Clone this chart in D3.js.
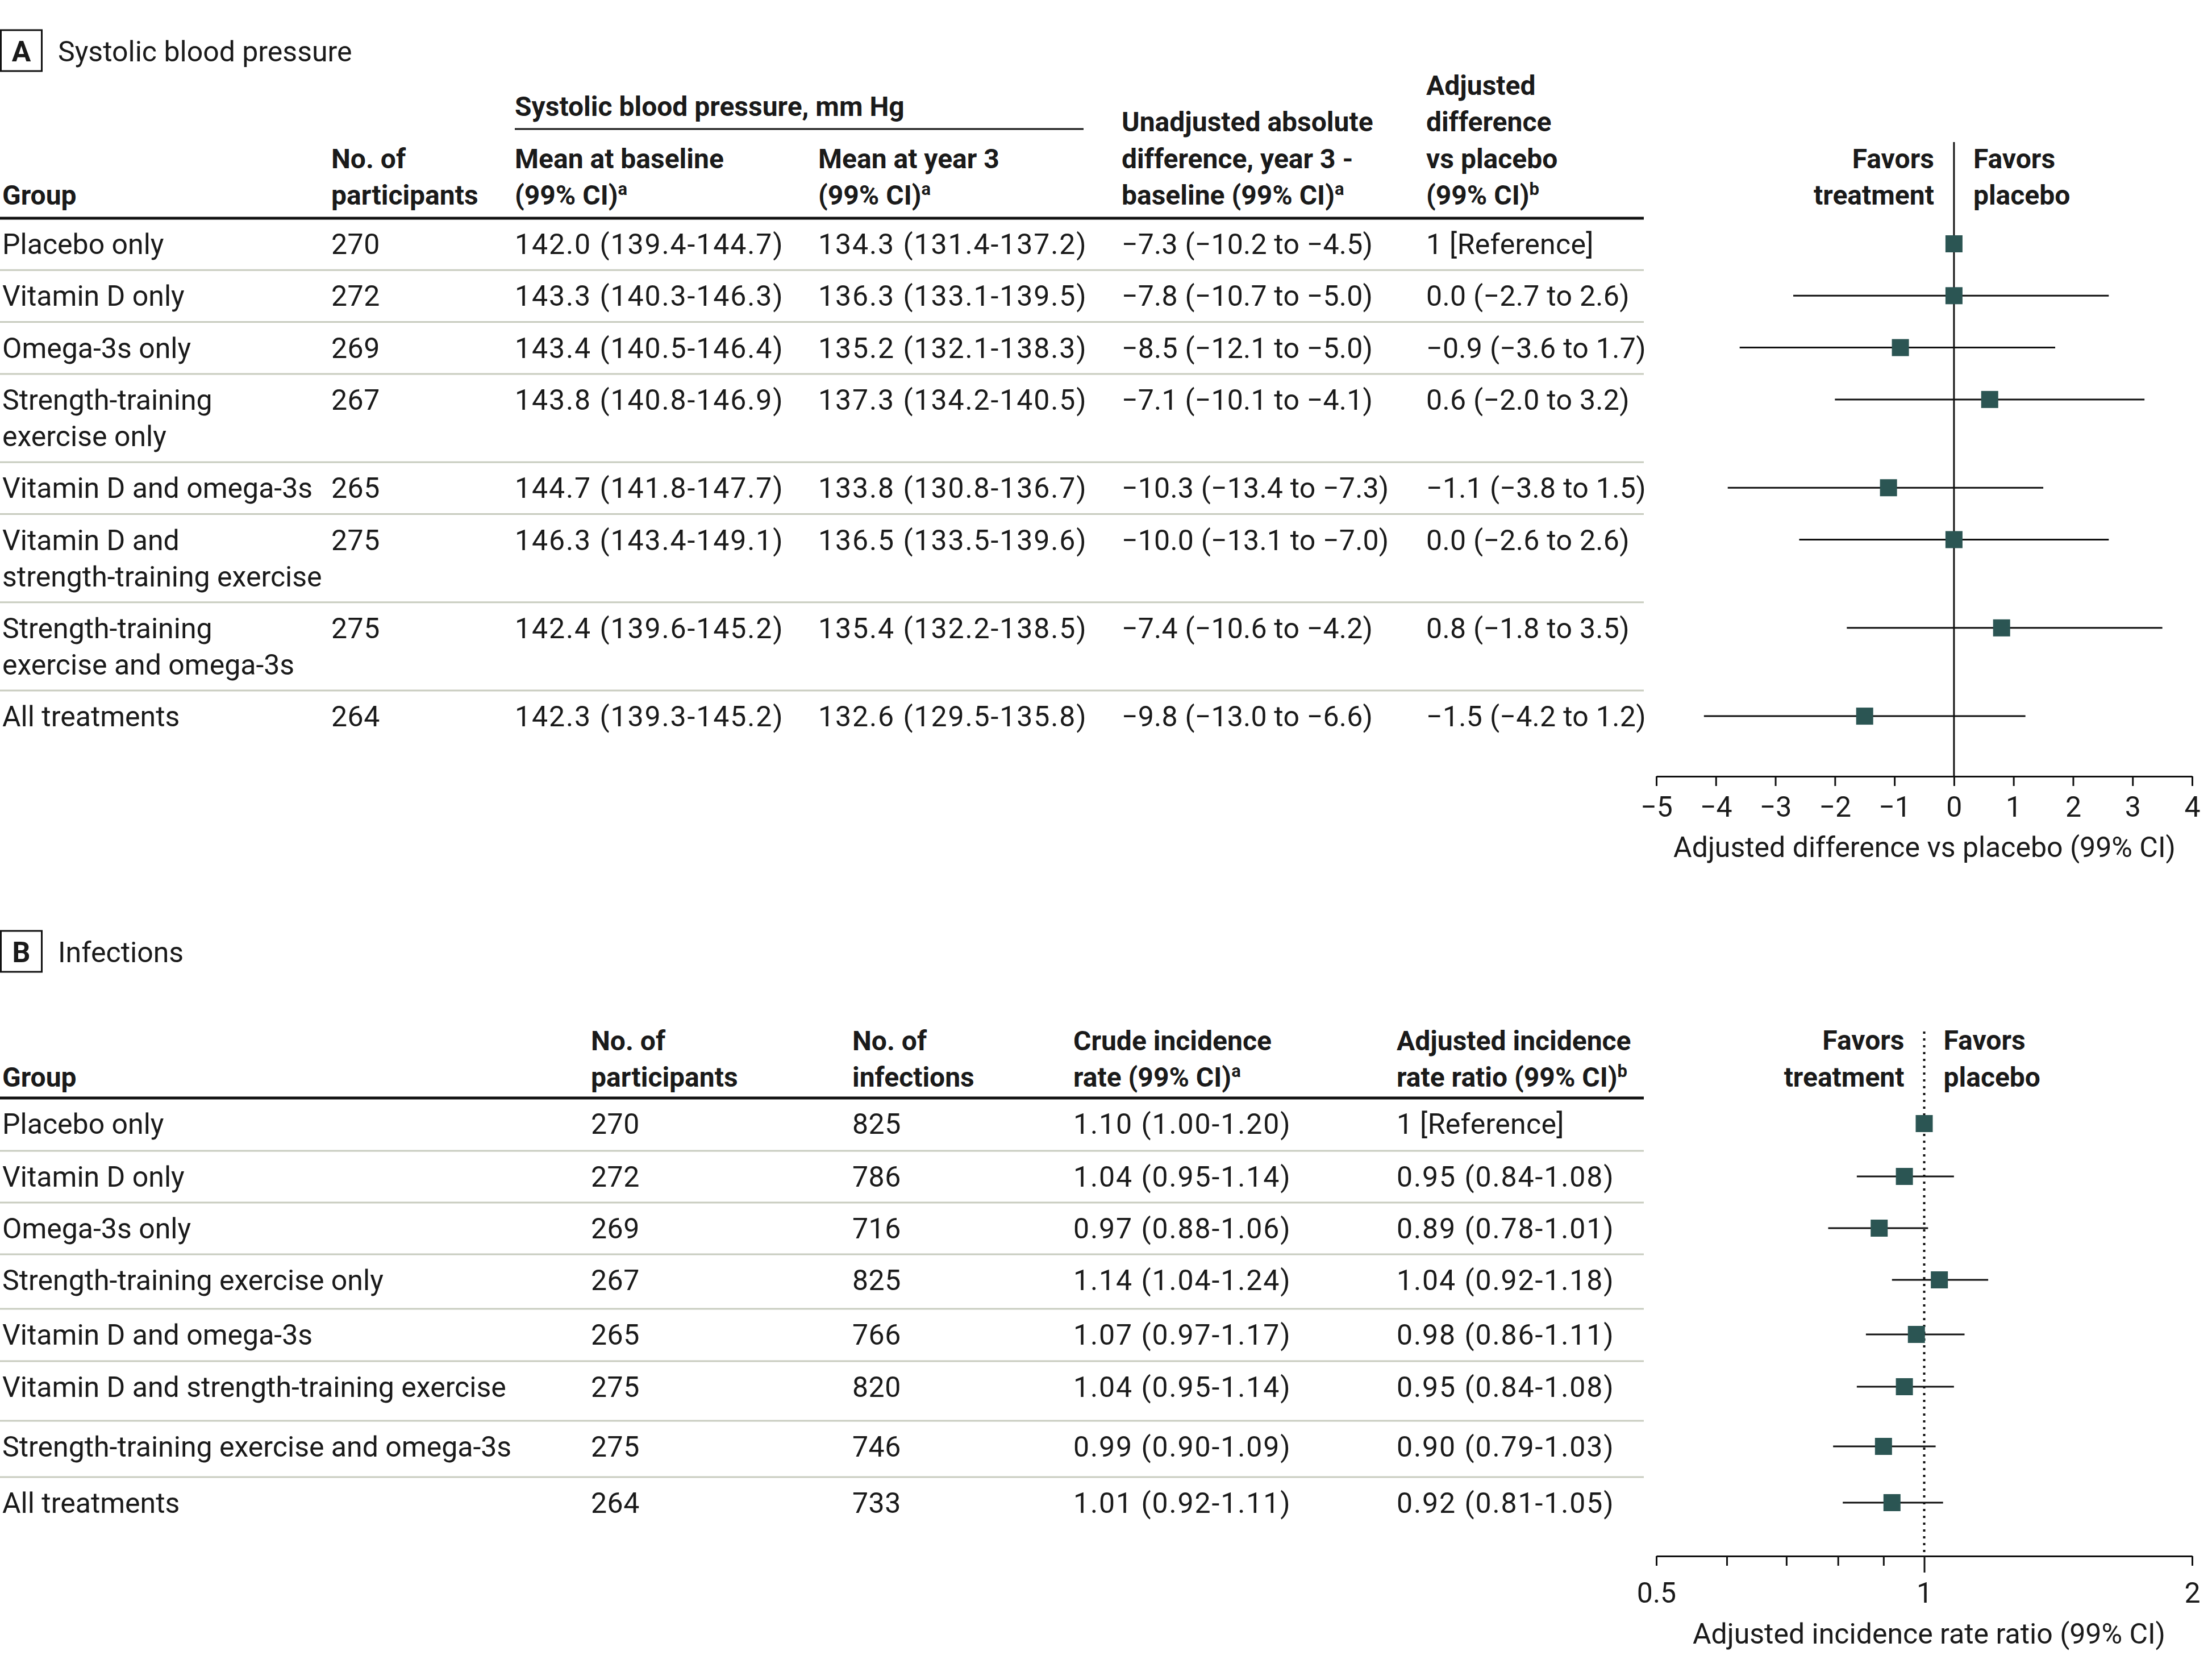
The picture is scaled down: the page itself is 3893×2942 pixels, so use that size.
<!DOCTYPE html>
<html><head><meta charset="utf-8">
<script src="https://cdn.jsdelivr.net/npm/d3@7"></script>
<style>
html,body{margin:0;padding:0;background:#fff;}
svg text{font-family:Roboto,"Liberation Sans",sans-serif;fill:#1a1a1a;}
</style></head><body>
<svg id="chart" width="3893" height="2942"></svg>
<script>
// ---------------- DATA ----------------
const groups = ["Placebo only","Vitamin D only","Omega-3s only","Strength-training exercise only",
  "Vitamin D and omega-3s","Vitamin D and strength-training exercise",
  "Strength-training exercise and omega-3s","All treatments"];
const groupLinesA = [["Placebo only"],["Vitamin D only"],["Omega-3s only"],["Strength-training","exercise only"],
  ["Vitamin D and omega-3s"],["Vitamin D and","strength-training exercise"],
  ["Strength-training","exercise and omega-3s"],["All treatments"]];

// Panel A: systolic blood pressure
const nParticipants = [270,272,269,267,265,275,275,264];
const baseMean = [142.0,143.3,143.4,143.8,144.7,146.3,142.4,142.3];
const baseLo   = [139.4,140.3,140.5,140.8,141.8,143.4,139.6,139.3];
const baseHi   = [144.7,146.3,146.4,146.9,147.7,149.1,145.2,145.2];
const y3Mean = [134.3,136.3,135.2,137.3,133.8,136.5,135.4,132.6];
const y3Lo   = [131.4,133.1,132.1,134.2,130.8,133.5,132.2,129.5];
const y3Hi   = [137.2,139.5,138.3,140.5,136.7,139.6,138.5,135.8];
const unadj   = [-7.3,-7.8,-8.5,-7.1,-10.3,-10.0,-7.4,-9.8];
const unadjLo = [-10.2,-10.7,-12.1,-10.1,-13.4,-13.1,-10.6,-13.0];
const unadjHi = [-4.5,-5.0,-5.0,-4.1,-7.3,-7.0,-4.2,-6.6];
const adjDiff   = [0,0.0,-0.9,0.6,-1.1,0.0,0.8,-1.5];
const adjDiffLo = [null,-2.7,-3.6,-2.0,-3.8,-2.6,-1.8,-4.2];
const adjDiffHi = [null,2.6,1.7,3.2,1.5,2.6,3.5,1.2];
const ticksA = [-5,-4,-3,-2,-1,0,1,2,3,4];

// Panel B: infections
const nInfections = [825,786,716,825,766,820,746,733];
const crude   = [1.10,1.04,0.97,1.14,1.07,1.04,0.99,1.01];
const crudeLo = [1.00,0.95,0.88,1.04,0.97,0.95,0.90,0.92];
const crudeHi = [1.20,1.14,1.06,1.24,1.17,1.14,1.09,1.11];
const irr   = [1,0.95,0.89,1.04,0.98,0.95,0.90,0.92];
const irrLo = [null,0.84,0.78,0.92,0.86,0.84,0.79,0.81];
const irrHi = [null,1.08,1.01,1.18,1.11,1.08,1.03,1.05];
const ticksB = [0.5,0.6,0.7,0.8,0.9,1,2];
const tickLabelsB = [0.5,1,2];

// ---------------- LAYOUT ----------------
const W=3893, H=2942;
const FS=50, HFS=48, LG=64.5, LS=1.9;
const TXT="#1a1a1a", SEP="#c8ccbf", MARK="#2b5553";
const tableRight=2893;
const plotRange=[2915,3858];

const svg=d3.select("#chart");
svg.append("rect").attr("width",W).attr("height",H).attr("fill","#fff");

const minus = v => (v<0?"\u2212":"")+Math.abs(v);
const f1 = v => (v<0?"\u2212":"")+Math.abs(v).toFixed(1);
const f2 = v => (v<0?"\u2212":"")+Math.abs(v).toFixed(2);

function txt(g,x,y,s,o={}){
  const t=g.append("text").attr("x",x).attr("y",y)
    .attr("font-size",o.fs||FS).attr("font-weight",o.bold?700:400)
    .attr("text-anchor",o.anchor||"start").text(s);
  if(o.ls) t.attr("letter-spacing",o.ls);
  return t;
}
function header(g,x,lastBase,lines,sup,anchor){
  const n=lines.length;
  lines.forEach((l,i)=>{
    const t=txt(g,x,lastBase-(n-1-i)*LG,l,{bold:true,fs:HFS,anchor:anchor});
    if(sup && i===n-1){
      t.append("tspan").attr("font-size",31).attr("dy",-17).text(sup);
    }
  });
}
function panelLabel(g,y,letter,title){
  g.append("rect").attr("x",1.5).attr("y",y).attr("width",72).attr("height",72)
    .attr("fill","none").attr("stroke","#111").attr("stroke-width",3);
  txt(g,37.5,y+55,letter,{bold:true,anchor:"middle"});
  txt(g,102,y+55,title);
}
function hline(g,x1,x2,y,c,w){
  g.append("line").attr("x1",x1).attr("x2",x2).attr("y1",y).attr("y2",y)
    .attr("stroke",c).attr("stroke-width",w);
}
function styleAxis(ax){
  ax.attr("font-family",null).attr("font-size",null);
  ax.select(".domain").attr("stroke","#111").attr("stroke-width",3);
  ax.selectAll(".tick line").attr("stroke","#111").attr("stroke-width",3);
  ax.selectAll(".tick text").attr("font-size",FS).attr("fill",TXT);
}

// ================= PANEL A =================
const gA=svg.append("g");
panelLabel(gA,53,"A","Systolic blood pressure");

const colA={group:4,n:583,base:906,y3:1440,unadj:1974,adj:2510};
const hdrA=360;
txt(gA,colA.base,204,"Systolic blood pressure, mm Hg",{bold:true,fs:HFS});
hline(gA,colA.base,1907,227,"#111",3);
header(gA,colA.group,hdrA,["Group"]);
header(gA,colA.n,hdrA,["No. of","participants"]);
header(gA,colA.base,hdrA,["Mean at baseline","(99% CI)"],"a");
header(gA,colA.y3,hdrA,["Mean at year 3","(99% CI)"],"a");
header(gA,colA.unadj,hdrA,["Unadjusted absolute","difference, year 3 -","baseline (99% CI)"],"a");
header(gA,colA.adj,hdrA,["Adjusted","difference","vs placebo","(99% CI)"],"b");
hline(gA,0,tableRight,384,"#111",5);

const topsA=[]; {let y=384; groupLinesA.forEach(l=>{topsA.push(y); y+=91.3+(l.length-1)*64;});}
const yA=d3.scaleOrdinal().domain(groups).range(topsA.map(t=>t+63-18));

groups.forEach((gname,i)=>{
  const b=topsA[i]+63;
  groupLinesA[i].forEach((l,j)=>txt(gA,colA.group,b+j*64,l));
  txt(gA,colA.n,b,nParticipants[i],{ls:0.5});
  txt(gA,colA.base,b,`${f1(baseMean[i])} (${f1(baseLo[i])}-${f1(baseHi[i])})`,{ls:LS});
  txt(gA,colA.y3,b,`${f1(y3Mean[i])} (${f1(y3Lo[i])}-${f1(y3Hi[i])})`,{ls:LS});
  txt(gA,colA.unadj,b,`${f1(unadj[i])} (${f1(unadjLo[i])} to ${f1(unadjHi[i])})`,{ls:0.2});
  if(adjDiffLo[i]===null) txt(gA,colA.adj,b,"1 [Reference]",{ls:0.3});
  else txt(gA,colA.adj,b,`${f1(adjDiff[i])} (${f1(adjDiffLo[i])} to ${f1(adjDiffHi[i])})`,{ls:0.3});
  if(i>0) hline(gA,0,tableRight,topsA[i],SEP,3);
});

// forest A
const xA=d3.scaleLinear().domain([-5,4]).range(plotRange);
const axisYA=1366;
gA.append("line").attr("x1",xA(0)).attr("x2",xA(0)).attr("y1",250).attr("y2",axisYA)
  .attr("stroke","#111").attr("stroke-width",3);
const axA=gA.append("g").attr("transform",`translate(0,${axisYA})`)
  .call(d3.axisBottom(xA).tickValues(ticksA).tickSize(17).tickSizeOuter(0).tickPadding(18.5)
  .tickFormat(d=>minus(d)));
styleAxis(axA);
txt(gA,3387,1508,"Adjusted difference vs placebo (99% CI)",{anchor:"middle"});
txt(gA,xA(0)-35,296,"Favors",{bold:true,fs:HFS,anchor:"end"});
txt(gA,xA(0)-35,360,"treatment",{bold:true,fs:HFS,anchor:"end"});
txt(gA,xA(0)+34,296,"Favors",{bold:true,fs:HFS});
txt(gA,xA(0)+34,360,"placebo",{bold:true,fs:HFS});

groups.forEach((gname,i)=>{
  const cy=yA(gname);
  if(adjDiffLo[i]!==null){
    gA.append("line").attr("x1",xA(adjDiffLo[i])).attr("x2",xA(adjDiffHi[i]))
      .attr("y1",cy).attr("y2",cy).attr("stroke","#111").attr("stroke-width",3);
  }
  gA.append("rect").attr("x",xA(adjDiff[i])-15).attr("y",cy-15).attr("width",30).attr("height",30)
    .attr("fill",MARK);
});

// ================= PANEL B =================
const gB=svg.append("g");
panelLabel(gB,1638,"B","Infections");

const colB={group:4,n:1040,inf:1500,crude:1889,irr:2458};
const hdrB=1912;
header(gB,colB.group,hdrB,["Group"]);
header(gB,colB.n,hdrB,["No. of","participants"]);
header(gB,colB.inf,hdrB,["No. of","infections"]);
header(gB,colB.crude,hdrB,["Crude incidence","rate (99% CI)"],"a");
header(gB,colB.irr,hdrB,["Adjusted incidence","rate ratio (99% CI)"],"b");
hline(gB,0,tableRight,1932,"#111",5);

const rowHB=[93,91,91,96,92,105,99,92];
const topsB=[]; {let y=1932; rowHB.forEach(h=>{topsB.push(y); y+=h;});}
const yB=d3.scaleOrdinal().domain(groups).range(topsB.map(t=>t+63-18));

groups.forEach((gname,i)=>{
  const b=topsB[i]+63;
  txt(gB,colB.group,b,gname);
  txt(gB,colB.n,b,nParticipants[i],{ls:0.5});
  txt(gB,colB.inf,b,nInfections[i],{ls:0.5});
  txt(gB,colB.crude,b,`${f2(crude[i])} (${f2(crudeLo[i])}-${f2(crudeHi[i])})`,{ls:LS});
  if(irrLo[i]===null) txt(gB,colB.irr,b,"1 [Reference]",{ls:0.3});
  else txt(gB,colB.irr,b,`${f2(irr[i])} (${f2(irrLo[i])}-${f2(irrHi[i])})`,{ls:LS});
  if(i>0) hline(gB,0,tableRight,topsB[i],SEP,3);
});

// forest B
const xB=d3.scaleLog().domain([0.5,2]).range(plotRange);
const axisYB=2738;
gB.append("line").attr("x1",xB(1)).attr("x2",xB(1)).attr("y1",1815).attr("y2",axisYB)
  .attr("stroke","#111").attr("stroke-width",4).attr("stroke-dasharray","4,8");
const axB=gB.append("g").attr("transform",`translate(0,${axisYB})`)
  .call(d3.axisBottom(xB).tickValues(ticksB).tickSize(17).tickSizeOuter(0).tickPadding(29.5)
  .tickFormat(d=>tickLabelsB.includes(d)?String(d):""));
styleAxis(axB);
axB.selectAll(".tick").filter(d=>d===1).select("line").attr("y2",29);
txt(gB,3395,2892,"Adjusted incidence rate ratio (99% CI)",{anchor:"middle"});
txt(gB,xB(1)-35,1847,"Favors",{bold:true,fs:HFS,anchor:"end"});
txt(gB,xB(1)-35,1912,"treatment",{bold:true,fs:HFS,anchor:"end"});
txt(gB,xB(1)+34,1847,"Favors",{bold:true,fs:HFS});
txt(gB,xB(1)+34,1912,"placebo",{bold:true,fs:HFS});

groups.forEach((gname,i)=>{
  const cy=yB(gname);
  if(irrLo[i]!==null){
    gB.append("line").attr("x1",xB(irrLo[i])).attr("x2",xB(irrHi[i]))
      .attr("y1",cy).attr("y2",cy).attr("stroke","#111").attr("stroke-width",3);
  }
  gB.append("rect").attr("x",xB(irr[i])-15).attr("y",cy-15).attr("width",30).attr("height",30)
    .attr("fill",MARK);
});
</script>
</body></html>
